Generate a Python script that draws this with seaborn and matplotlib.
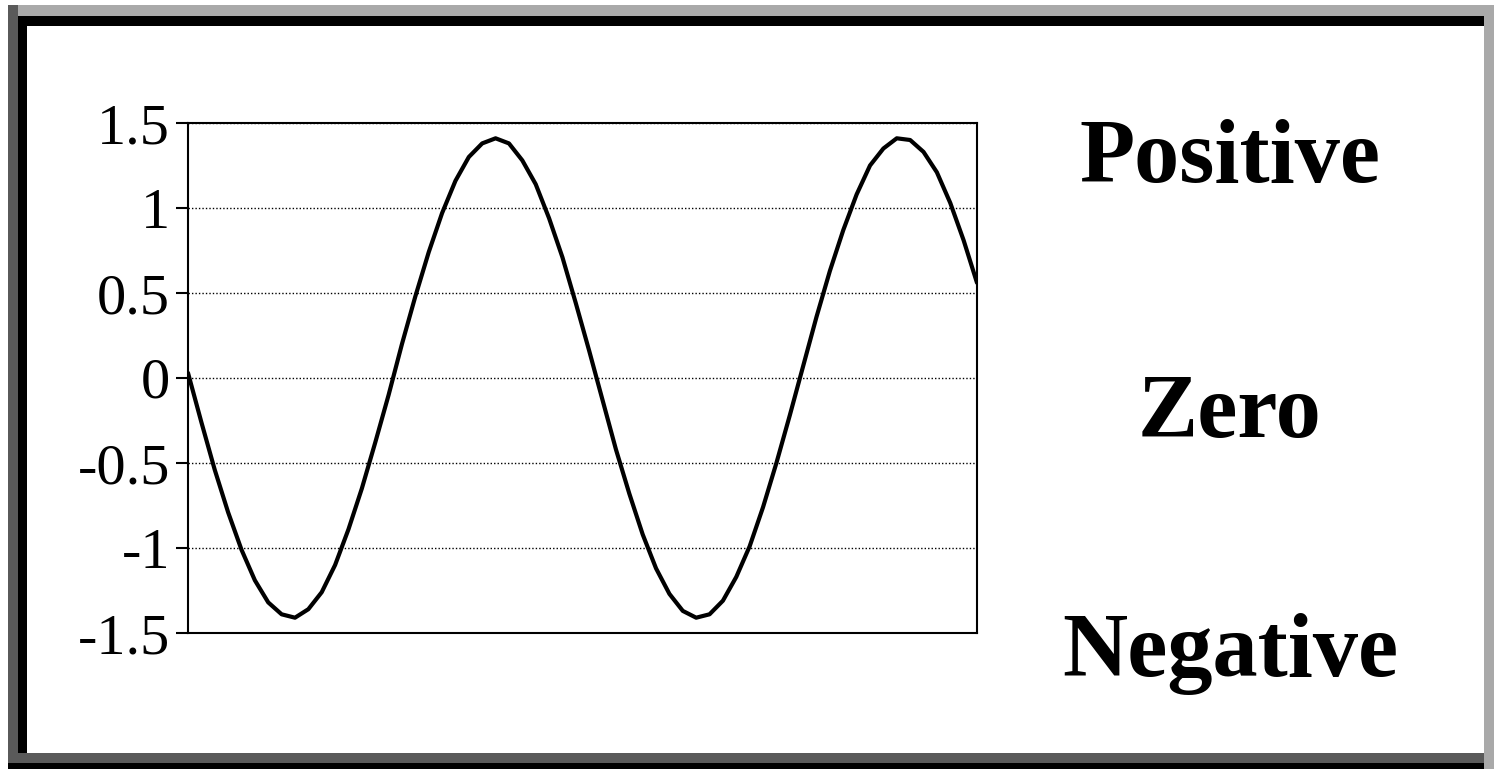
import matplotlib
matplotlib.use("Agg")
import matplotlib.pyplot as plt
import seaborn as sns
import pandas as pd
from matplotlib.patches import Rectangle

values = [0.03, -0.26, -0.54, -0.79, -1.01, -1.19, -1.32, -1.39, -1.41, -1.36,
          -1.26, -1.10, -0.89, -0.65, -0.38, -0.10, 0.20, 0.48, 0.74, 0.97,
          1.16, 1.30, 1.38, 1.41, 1.38, 1.28, 1.14, 0.94, 0.71, 0.44,
          0.16, -0.13, -0.42, -0.68, -0.92, -1.12, -1.27, -1.37, -1.41, -1.39,
          -1.31, -1.17, -0.99, -0.76, -0.50, -0.22, 0.07, 0.36, 0.63, 0.87,
          1.08, 1.25, 1.35, 1.41, 1.40, 1.33, 1.21, 1.03, 0.81, 0.56]
samples = list(range(len(values)))
y_ticks = [-1.5, -1, -0.5, 0, 0.5, 1, 1.5]
y_tick_labels = ["-1.5", "-1", "-0.5", "0", "0.5", "1", "1.5"]
side_labels = ["Positive", "Zero", "Negative"]

df = pd.DataFrame({"sample": samples, "value": values})

sns.set_theme(style="white")
plt.rcParams["font.family"] = ["Liberation Serif", "DejaVu Serif"]
plt.rcParams["text.color"] = "black"

W, H = 1494, 769
fig = plt.figure(figsize=(W / 100, H / 100), dpi=100)
fig.patch.set_facecolor("white")

def px_rect(x0, y0, x1, y1, color):
    # rectangle given in image pixels (origin top-left)
    fig.add_artist(Rectangle((x0 / W, 1 - y1 / H), (x1 - x0) / W, (y1 - y0) / H,
                             transform=fig.transFigure, color=color, lw=0))

# bevelled frame
px_rect(8, 5, 1494, 16, "#a9a9a9")
px_rect(8, 5, 18, 769, "#5a5a5a")
px_rect(8, 753, 1484, 763, "#5a5a5a")
px_rect(18, 16, 1484, 26, "black")
px_rect(18, 16, 27, 753, "black")
px_rect(8, 763, 1484, 769, "black")
px_rect(1484, 5, 1494, 769, "#a9a9a9")

ax = fig.add_axes([188 / W, 1 - 633 / H, (977 - 188) / W, (633 - 123) / H])
sns.lineplot(data=df, x="sample", y="value", ax=ax, color="black", lw=3)

ax.set_xlim(samples[0], samples[-1])
ax.set_ylim(-1.5, 1.5)
ax.set_yticks(y_ticks)
ax.set_yticklabels(y_tick_labels, fontsize=42, color="black")
ax.set_xticks([])
ax.set_xlabel("")
ax.set_ylabel("")
ax.yaxis.grid(True, linestyle=(0, (1, 1.5)), color="black", lw=1)
ax.tick_params(axis="y", direction="out", length=9, width=1.5, pad=4, left=True, colors="black")
for s in ax.spines.values():
    s.set_color("black")
    s.set_linewidth(1.5)
ax.set_facecolor("white")

# labels to the right
label_y = [1 - 182 / H, 1 - 437 / H, 1 - 676 / H]
for txt, yy in zip(side_labels, label_y):
    fig.text(1230 / W, yy, txt, ha="center", va="baseline", fontsize=65,
             fontweight="bold", color="black")

fig.savefig("out.png", dpi=100)
